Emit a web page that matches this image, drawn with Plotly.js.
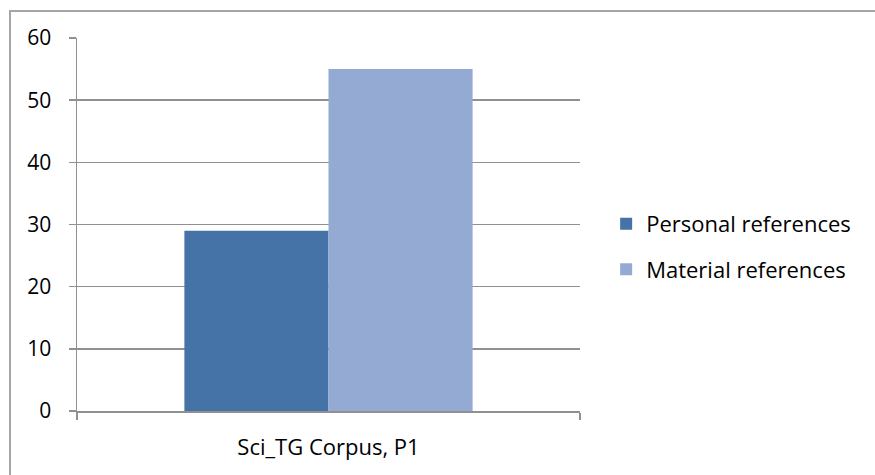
<!DOCTYPE html>
<html><head><meta charset="utf-8">
<script src="https://cdn.plot.ly/plotly-3.0.1.min.js"></script>
<style>
html,body{margin:0;padding:0;background:#fff;overflow:hidden;}
#frame{position:absolute;left:9px;top:10px;width:900px;height:500px;border:2px solid #a6a6a6;box-sizing:border-box;pointer-events:none;z-index:5;}
#chart{position:absolute;left:0;top:0;width:875px;height:475px;}
</style></head>
<body>
<div id="chart"></div>
<div id="frame"></div>
<script>
const categories = ["Sci_TG Corpus, P1"];
const seriesNames = ["Personal references", "Material references"];
const personalValues = [29];
const materialValues = [55];
const yTicks = [0, 10, 20, 30, 40, 50, 60];

const font = "'Open Sans', 'Noto Sans', sans-serif";
const traces = [
  {type:'bar', name:seriesNames[0], x:categories, y:personalValues, marker:{color:'#4572a7'}, legendgroup:'a'},
  {type:'bar', name:seriesNames[1], x:categories, y:materialValues, marker:{color:'#95aad2'}, legendgroup:'b'}
];
const layout = {
  width:875, height:475,
  margin:{l:77, r:295, t:38, b:64},
  paper_bgcolor:'#fff', plot_bgcolor:'#fff',
  barmode:'group', bargap:0.427, bargroupgap:0,
  font:{family:font, color:'#000', size:20},
  showlegend:true,
  legend:{x:1.052, y:0.44, xanchor:'left', yanchor:'middle', font:{size:22, family:font}, tracegroupgap:14, itemwidth:30},
  xaxis:{type:'category', showgrid:false, showline:true, linecolor:'#909090', linewidth:1.5,
         ticks:'outside', tickson:'boundaries', ticklen:7, tickcolor:'#909090', tickwidth:1.5,
         tickfont:{size:22, family:font}, ticklabelstandoff:16, fixedrange:true},
  yaxis:{range:[0,60], tickvals:yTicks, showgrid:true, gridcolor:'#909090', gridwidth:1.5,
         showline:true, linecolor:'#909090', linewidth:1.5, zeroline:false,
         ticks:'outside', ticklen:7, tickcolor:'#909090', tickwidth:1.5,
         tickfont:{size:21, family:font}, ticklabelstandoff:13, fixedrange:true}
};
Plotly.newPlot('chart', traces, layout, {displayModeBar:false, staticPlot:true});
</script>
</body></html>
